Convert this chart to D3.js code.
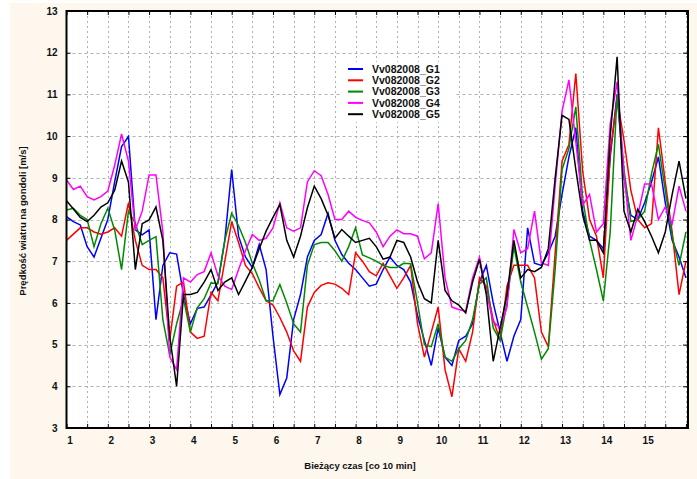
<!DOCTYPE html>
<html>
<head>
<meta charset="utf-8">
<script src="https://cdn.jsdelivr.net/npm/d3@7"></script>
<style>
  html, body { margin: 0; padding: 0; background: #ffffff; }
  svg { display: block; font-family: "Liberation Sans", Arial, sans-serif; }
</style>
</head>
<body>
<svg id="chart" width="697" height="479"></svg>
<script>
// Wind speed at the nacelle, one reading every 10 minutes (6 per hour)
const seriesNames = ["Vv082008_G1", "Vv082008_G2", "Vv082008_G3", "Vv082008_G4", "Vv082008_G5"];
const seriesColors = ["#0000ff", "#ff0000", "#008a00", "#ff00ff", "#000000"];

const g1 = [8.07, 7.95, 7.87, 7.35, 7.1, 7.55, 8.0, 8.9, 9.75, 9.99,
  7.75, 7.63, 7.75, 5.6, 6.9, 7.2, 7.17, 6.2, 5.5, 5.87,
  5.9, 6.19, 6.5, 7.5, 9.2, 7.6, 7.1, 6.85, 7.4, 6.8,
  5.2, 3.8, 4.2, 5.6, 6.2, 7.1, 7.5, 7.64, 8.15, 7.5,
  7.16, 6.95, 6.8, 6.6, 6.4, 6.45, 6.8, 7.1, 6.9, 6.8,
  6.5, 5.7, 5.1, 4.5, 5.4, 4.7, 4.5, 5.1, 5.2, 5.5,
  6.5, 6.9, 6.0, 5.3, 4.6, 5.2, 5.6, 7.8, 6.95, 6.9,
  7.2, 7.6, 8.6, 9.5, 10.2, 8.2, 7.6, 7.5, 7.3, 9.5,
  11.0, 9.0, 8.1, 8.0, 8.4, 8.9, 9.5, 8.4, 7.5, 7.1, 6.6];

const g2 = [7.5, 7.65, 7.8, 7.8, 7.7, 7.65, 7.7, 7.8, 7.6, 8.4,
  7.5, 6.9, 6.8, 6.8, 6.6, 5.1, 6.4, 6.5, 5.3, 5.15,
  5.2, 6.25, 6.05, 7.0, 7.95, 7.45, 6.9, 6.7, 6.36, 6.05,
  5.95, 5.65, 5.3, 4.85, 4.6, 5.9, 6.25, 6.42, 6.48, 6.45,
  6.35, 6.2, 7.2, 7.0, 6.75, 6.65, 6.95, 6.65, 6.35, 6.6,
  6.9, 5.5, 4.7, 5.3, 5.9, 4.4, 3.75, 4.9, 4.6, 5.3,
  6.6, 6.4, 5.6, 5.1, 6.4, 6.9, 6.9, 6.9, 6.6, 5.3,
  4.95, 7.2, 9.4, 9.8, 11.5, 9.15, 8.0, 7.6, 6.6, 9.6,
  10.9, 9.9, 8.7, 8.0, 7.8, 7.9, 10.2, 8.9, 7.7, 6.2, 7.0];

const g3 = [8.23, 8.27, 8.1, 8.0, 7.35, 7.9, 8.27, 7.75, 6.8, 8.2,
  7.91, 7.4, 7.5, 7.59, 5.6, 4.75, 5.5, 6.1, 5.3, 5.88,
  6.1, 6.48, 6.46, 7.5, 8.15, 7.85, 7.45, 6.95, 6.55, 6.05,
  6.05, 6.44, 6.0, 5.5, 5.3, 6.9, 7.4, 7.45, 7.45, 7.25,
  7.0, 7.35, 7.8, 7.15, 7.08, 7.0, 6.9, 6.85, 6.85, 6.95,
  6.94, 6.0, 5.0, 4.95, 5.5, 4.7, 4.6, 4.9, 5.1, 5.6,
  6.45, 6.6, 5.4, 5.1, 6.0, 7.35, 6.5, 5.9, 5.3, 4.65,
  4.9, 6.8, 9.2, 9.7, 10.7, 8.5, 7.5, 6.8, 6.05, 7.7,
  11.0, 9.2, 7.95, 8.0, 8.2, 9.1, 9.8, 8.7, 7.6, 6.9, 7.7];

const g4 = [8.95, 8.72, 8.8, 8.55, 8.47, 8.55, 8.68, 9.3, 10.05, 9.4,
  7.75, 8.2, 9.07, 9.07, 7.7, 4.7, 4.4, 6.6, 6.5, 6.68,
  6.75, 7.2, 6.65, 6.4, 6.32, 6.8, 7.25, 7.64, 7.5, 7.55,
  7.8, 8.4, 7.8, 7.72, 7.8, 8.9, 9.17, 9.05, 8.6, 8.0,
  8.0, 8.2, 8.05, 7.98, 7.92, 7.7, 7.35, 7.6, 7.75, 7.66,
  7.66, 7.6, 7.06, 7.2, 8.38, 6.6, 5.9, 5.84, 5.8, 6.6,
  7.1, 6.25, 5.55, 5.4, 5.9, 7.76, 7.2, 7.3, 8.2, 6.96,
  6.9, 8.8, 10.6, 11.35, 9.86, 8.35, 8.6, 7.7, 7.9, 10.3,
  11.3, 9.1, 7.5, 8.1, 8.85, 8.85, 8.0, 8.3, 7.9, 8.8, 8.2];

const g5 = [8.45, 8.25, 8.05, 7.95, 8.1, 8.3, 8.4, 8.7, 9.4, 8.9,
  6.8, 7.9, 7.99, 8.3, 7.5, 5.2, 4.0, 6.2, 6.2, 6.25,
  6.5, 6.8, 6.3, 6.5, 6.6, 6.2, 6.52, 6.85, 7.3, 7.72,
  8.05, 8.36, 7.5, 7.1, 7.6, 8.28, 8.8, 8.5, 8.1, 7.55,
  7.76, 7.6, 7.45, 7.5, 7.55, 7.35, 7.05, 7.1, 7.5, 7.45,
  7.1, 6.5, 6.1, 6.0, 7.5, 6.3, 6.05, 5.95, 5.76, 6.5,
  7.04, 6.2, 4.6, 5.4, 6.2, 7.5, 6.6, 6.8, 6.75, 6.85,
  7.3, 9.0, 10.5, 10.4, 9.2, 8.1, 7.5, 7.5, 7.2, 10.0,
  11.9, 8.2, 7.7, 8.25, 7.95, 7.6, 7.2, 7.7, 8.6, 9.4, 8.5];

const seriesValues = [g1, g2, g3, g4, g5];

// Time of each reading in hours (10-minute step)
const timeHours = d3.range(g1.length).map(i => 1 + i / 6);
const hourLabels = d3.range(1, 16);
const halfHourTicks = d3.range(1, 16.01, 0.5);
const yTicks = d3.range(3, 14);

const W = 697, H = 479;
const plot = { left: 66.5, right: 688, top: 11, bottom: 428 };

const x = d3.scaleLinear().domain([1, 16.05]).range([plot.left, plot.right]);
const y = d3.scaleLinear().domain([3, 13]).range([plot.bottom, plot.top]);

const svg = d3.select("#chart");

// page background
svg.append("rect").attr("x", 10).attr("y", 3).attr("width", W - 10).attr("height", H - 3)
  .attr("fill", "#fdf7ee");

// plot background
svg.append("rect")
  .attr("x", plot.left).attr("y", plot.top)
  .attr("width", plot.right - plot.left).attr("height", plot.bottom - plot.top)
  .attr("fill", "#ffffff");

// dotted grid
const grid = svg.append("g").attr("stroke", "#b0b0b0").attr("stroke-width", 1);
grid.selectAll("line.v").data(halfHourTicks.filter(t => t > 1)).join("line")
  .attr("class", "v")
  .attr("x1", d => Math.round(x(d)) + 0.5).attr("x2", d => Math.round(x(d)) + 0.5)
  .attr("y1", plot.top).attr("y2", plot.bottom)
  .attr("stroke-dasharray", "2,3");
grid.selectAll("line.h").data(yTicks.filter(t => t > 3 && t < 13)).join("line")
  .attr("class", "h")
  .attr("x1", plot.left).attr("x2", plot.right)
  .attr("y1", d => Math.round(y(d)) + 0.5).attr("y2", d => Math.round(y(d)) + 0.5)
  .attr("stroke-dasharray", "3,3");

// series lines
svg.append("clipPath").attr("id", "plotClip").append("rect")
  .attr("x", plot.left).attr("y", plot.top)
  .attr("width", plot.right - plot.left).attr("height", plot.bottom - plot.top);

const line = d3.line().x((d, i) => x(timeHours[i])).y(d => y(d));
svg.append("g").attr("clip-path", "url(#plotClip)")
  .selectAll("path").data(seriesValues).join("path")
  .attr("d", d => line(d))
  .attr("fill", "none")
  .attr("stroke", (d, i) => seriesColors[i])
  .attr("stroke-width", 1.5)
  .attr("stroke-linejoin", "miter");

// axes with inward ticks
const axisColor = "#000";
const bottomAxis = svg.append("g").attr("transform", `translate(0,${plot.bottom})`)
  .call(d3.axisBottom(x).tickValues(halfHourTicks).tickSizeInner(-4).tickSizeOuter(0).tickFormat(""));
const topAxis = svg.append("g").attr("transform", `translate(0,${plot.top})`)
  .call(d3.axisTop(x).tickValues(halfHourTicks).tickSizeInner(-4).tickSizeOuter(0).tickFormat(""));
const leftAxis = svg.append("g").attr("transform", `translate(${plot.left},0)`)
  .call(d3.axisLeft(y).tickValues(yTicks).tickSizeInner(-4).tickSizeOuter(0).tickPadding(9));
const rightAxis = svg.append("g").attr("transform", `translate(${plot.right},0)`)
  .call(d3.axisRight(y).tickValues(yTicks).tickSizeInner(-5).tickSizeOuter(0).tickFormat(""));
const labelAxis = svg.append("g").attr("transform", `translate(0,${plot.bottom})`)
  .call(d3.axisBottom(x).tickValues(hourLabels).tickSize(0).tickPadding(9).tickFormat(d3.format("d")));

[bottomAxis, topAxis, leftAxis, rightAxis, labelAxis].forEach(a => {
  a.select(".domain").remove();
  a.selectAll(".tick line").attr("stroke", axisColor).attr("stroke-width", 1);
  a.selectAll("text")
    .attr("fill", "#111")
    .attr("font-size", 10)
    .attr("font-weight", "bold")
    .attr("font-family", "'Liberation Sans', Arial, sans-serif");
});
labelAxis.selectAll("text").attr("dx", 3);

// frame
svg.append("rect")
  .attr("x", plot.left).attr("y", plot.top)
  .attr("width", plot.right - plot.left).attr("height", plot.bottom - plot.top)
  .attr("fill", "none").attr("stroke", "#000").attr("stroke-width", 2);

// axis titles
svg.append("text")
  .attr("transform", `translate(26,221) rotate(-90)`)
  .attr("text-anchor", "middle")
  .attr("font-size", 9.5).attr("font-weight", "bold").attr("fill", "#111")
  .text("Prędkość wiatru na gondoli [m/s]");

svg.append("text")
  .attr("x", 360).attr("y", 469)
  .attr("text-anchor", "middle")
  .attr("font-size", 9.5).attr("font-weight", "bold").attr("fill", "#111")
  .text("Bieżący czas [co 10 min]");

// legend
const legend = svg.append("g").attr("transform", "translate(342,62)");
legend.append("rect").attr("x", 0).attr("y", 0).attr("width", 112).attr("height", 60).attr("fill", "#ffffff");
const rows = legend.selectAll("g").data(seriesNames).join("g")
  .attr("transform", (d, i) => `translate(0,${7 + i * 11.3})`);
rows.append("line")
  .attr("x1", 6).attr("x2", 21).attr("y1", 0).attr("y2", 0)
  .attr("stroke", (d, i) => seriesColors[i]).attr("stroke-width", 2);
rows.append("text")
  .attr("x", 30).attr("y", 0).attr("dy", "0.35em")
  .attr("font-size", 10.5).attr("font-weight", "bold").attr("fill", "#111")
  .text(d => d);
</script>
</body>
</html>
